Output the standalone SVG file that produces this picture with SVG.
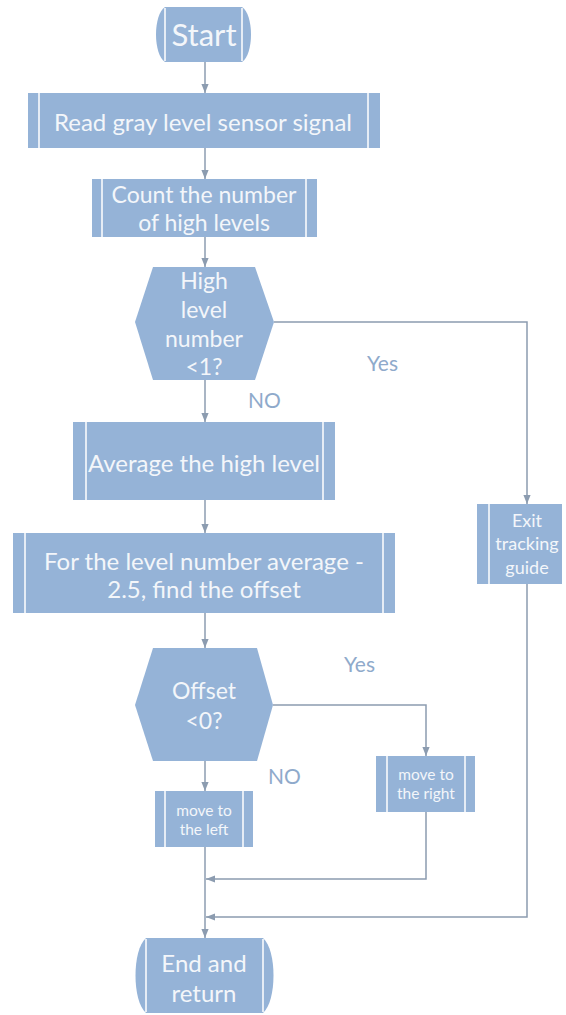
<svg xmlns="http://www.w3.org/2000/svg" width="566" height="1015" viewBox="0 0 566 1015">
<style>
.s{fill:#95b3d7;}
.ln{stroke:#ffffff;stroke-width:1.5;fill:none;}
.t{font-family:Lato,"Open Sans",sans-serif;fill:#f3f6fa;text-anchor:middle;dominant-baseline:central;}
.c{stroke:#8c9cb0;stroke-width:1.5;fill:none;}
.lb{font-family:Lato,"Open Sans",sans-serif;fill:#8faacb;font-size:21px;dominant-baseline:central;}
</style>
<defs>
<marker id="ah" viewBox="0 0 10 10" refX="10" refY="5" markerWidth="6" markerHeight="6" orient="auto">
<path d="M0,1 L10,5 L0,9 Z" fill="#8c9cb0"/>
</marker>
</defs>
<rect width="566" height="1015" fill="#ffffff"/>
<g id="connectors">
<path class="c" d="M205,62 V93" marker-end="url(#ah)"/>
<path class="c" d="M205,148 V179" marker-end="url(#ah)"/>
<path class="c" d="M205,237 V267" marker-end="url(#ah)"/>
<path class="c" d="M205,380 V422" marker-end="url(#ah)"/>
<path class="c" d="M205,500 V533" marker-end="url(#ah)"/>
<path class="c" d="M205,613 V648" marker-end="url(#ah)"/>
<path class="c" d="M205,761 V791" marker-end="url(#ah)"/>
<path class="c" d="M205,847 V938" marker-end="url(#ah)"/>
<path class="c" d="M274,322 H527 V504" marker-end="url(#ah)"/>
<path class="c" d="M527,584 V917 H206" marker-end="url(#ah)"/>
<path class="c" d="M273,705 H426 V756" marker-end="url(#ah)"/>
<path class="c" d="M426,812 V879 H206" marker-end="url(#ah)"/>
<text class="lb" x="367" y="362">Yes</text>
<text class="lb" x="248" y="399">NO</text>
<text class="lb" x="344" y="663">Yes</text>
<text class="lb" x="268" y="775">NO</text>
</g>
<g id="start">
<path class="s" d="M165,7 H242 C254,15 254,54 242,62 H165 C153,54 153,15 165,7 Z"/>
<path class="ln" d="M165,8 V61 M242,8 V61"/>
<text class="t" x="204" y="34" font-size="31">Start</text>
</g>
<g id="read">
<rect class="s" x="28" y="93" width="352" height="55"/>
<path class="ln" d="M39,93 V148 M368,93 V148"/>
<text class="t" x="203" y="121" font-size="24">Read gray level sensor signal</text>
</g>
<g id="count">
<rect class="s" x="92" y="179" width="225" height="58"/>
<path class="ln" d="M102,179 V237 M306,179 V237"/>
<text class="t" x="204" y="194" font-size="23">Count the number</text>
<text class="t" x="204" y="222" font-size="23">of high levels</text>
</g>
<g id="decision1">
<path class="s" d="M153,267 H255 L274,322 L255,380 H153 L135,322 Z"/>
<text class="t" x="204" y="280" font-size="23">High</text>
<text class="t" x="204" y="309" font-size="23">level</text>
<text class="t" x="204" y="338" font-size="23">number</text>
<text class="t" x="204" y="366" font-size="23">&lt;1?</text>
</g>
<g id="average">
<rect class="s" x="73" y="422" width="262" height="78"/>
<path class="ln" d="M86,422 V500 M323,422 V500"/>
<text class="t" x="204" y="462" font-size="24">Average the high level</text>
</g>
<g id="offset">
<rect class="s" x="13" y="533" width="382" height="80"/>
<path class="ln" d="M25,533 V613 M383,533 V613"/>
<text class="t" x="204" y="560" font-size="24">For the level number average -</text>
<text class="t" x="204" y="588" font-size="24">2.5, find the offset</text>
</g>
<g id="exit">
<rect class="s" x="477" y="504" width="85" height="80"/>
<path class="ln" d="M489,504 V584"/>
<text class="t" x="527" y="520" font-size="18">Exit</text>
<text class="t" x="527" y="543" font-size="18">tracking</text>
<text class="t" x="527" y="567" font-size="18">guide</text>
</g>
<g id="decision2">
<path class="s" d="M153,648 H257 L273,705 L257,761 H153 L135,705 Z"/>
<text class="t" x="204" y="690" font-size="23">Offset</text>
<text class="t" x="204" y="720" font-size="23">&lt;0?</text>
</g>
<g id="right">
<rect class="s" x="376" y="756" width="99" height="56"/>
<path class="ln" d="M387,756 V812 M465,756 V812"/>
<text class="t" x="426" y="774" font-size="15.5">move to</text>
<text class="t" x="426" y="793" font-size="15.5">the right</text>
</g>
<g id="left">
<rect class="s" x="155" y="791" width="98" height="56"/>
<path class="ln" d="M165,791 V847 M243,791 V847"/>
<text class="t" x="204" y="810" font-size="15.5">move to</text>
<text class="t" x="204" y="829" font-size="15.5">the left</text>
</g>
<g id="end">
<path class="s" d="M146,938 H263 C277,950 277,1001 263,1013 H146 C132,1001 132,950 146,938 Z"/>
<path class="ln" d="M146,939 V1012 M263,939 V1012"/>
<text class="t" x="204" y="962" font-size="24">End and</text>
<text class="t" x="204" y="992" font-size="24">return</text>
</g>
</svg>
